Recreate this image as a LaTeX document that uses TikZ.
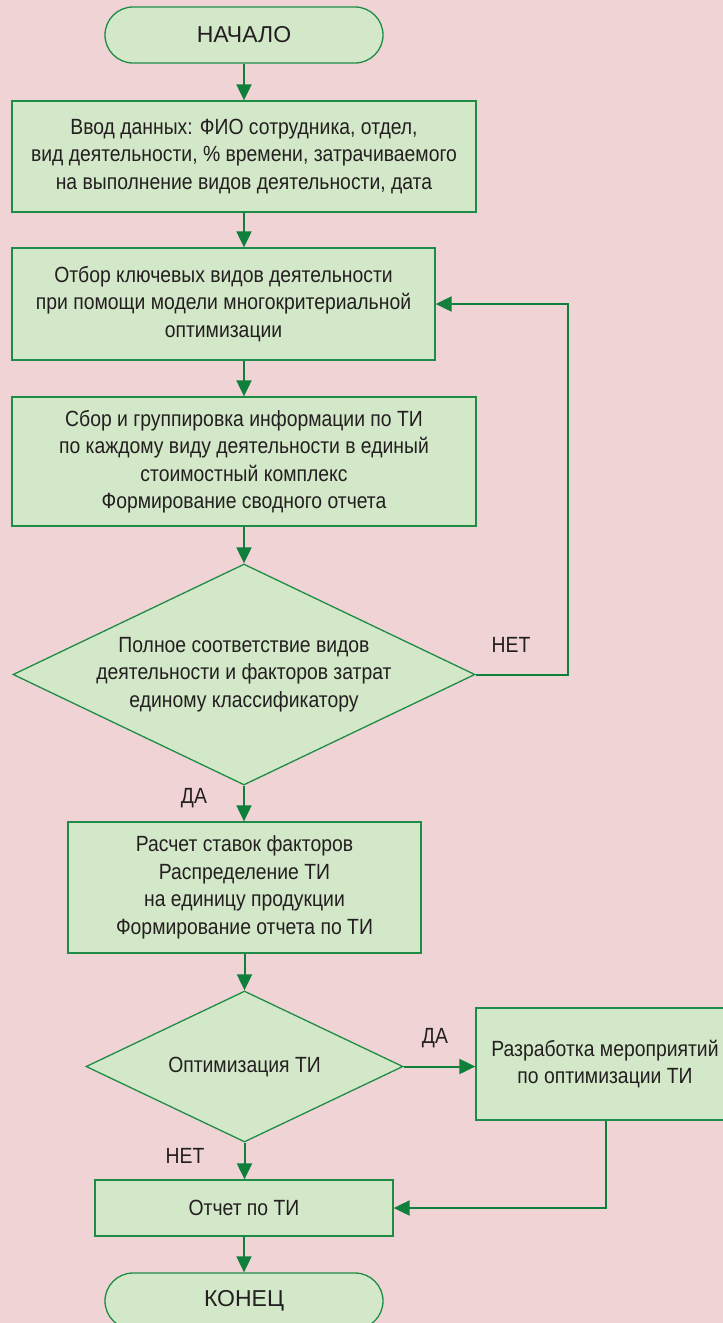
\documentclass[tikz,border=0pt]{standalone}
\usepackage{fontspec}
\setmainfont{Liberation Sans}
\newfontfamily\narrowfont{Liberation Sans}[FakeStretch=0.88]
\usetikzlibrary{shapes.geometric,arrows.meta}
\definecolor{bgpink}{HTML}{F0D4D5}
\definecolor{boxgreen}{HTML}{D3E8C8}
\definecolor{linegreen}{HTML}{1E8C46}
\definecolor{arrowgreen}{HTML}{0F7F3C}
\definecolor{textgray}{HTML}{231F20}

\begin{document}
\begin{tikzpicture}[x=1pt,y=-1pt,
    box/.style={draw=linegreen, line width=1.3pt, fill=boxgreen, inner sep=0pt,
        text=textgray, align=center, font=\narrowfont\fontsize{22}{27.5}\selectfont},
    term/.style={box, rounded corners=28pt, minimum width=278pt, minimum height=56pt,
        font=\fontsize{23}{27}\selectfont},
    choice/.style={diamond, draw=linegreen, line width=1.3pt, fill=boxgreen, inner sep=0pt},
    txt/.style={text=textgray, align=center, font=\narrowfont\fontsize{22}{27.5}\selectfont},
    flow/.style={draw=arrowgreen, line width=2pt, -{Triangle[length=16pt,width=15pt]}}]

    %% background
    \fill[bgpink] (0,0) rectangle (723,1323);
    \useasboundingbox (0,0) rectangle (723,1323);

    %% blocks
    \node[term] (start) at (244,35) {НАЧАЛО};
    \node[box, minimum width=464pt, minimum height=111pt] (input) at (244,156.5)
        {Ввод данных: ФИО сотрудника, отдел,\\
         вид деятельности, \% времени, затрачиваемого\\
         на выполнение видов деятельности, дата};
    \node[box, minimum width=423pt, minimum height=112pt] (select) at (223.5,304)
        {Отбор ключевых видов деятельности\\
         при помощи модели многокритериальной\\
         оптимизации};
    \node[box, minimum width=464pt, minimum height=129pt] (group) at (244,461.5)
        {Сбор и группировка информации по ТИ\\
         по каждому виду деятельности в единый\\
         стоимостный комплекс\\
         Формирование сводного отчета};
    \node[choice, minimum width=462pt, minimum height=221pt] (check) at (244,674.5) {};
    \node[txt] (checktext) at (check) {Полное соответствие видов\\
         деятельности и факторов затрат\\
         единому классификатору};
    \node[box, minimum width=353pt, minimum height=131pt] (calc) at (244.5,887.5)
        {Расчет ставок факторов\\
         Распределение ТИ\\
         на единицу продукции\\
         Формирование отчета по ТИ};
    \node[choice, minimum width=317pt, minimum height=151pt] (optim) at (244.5,1066.5) {};
    \node[txt] (optimtext) at (optim) {Оптимизация ТИ};
    \node[box, minimum width=258pt, minimum height=112pt] (plan) at (605,1064)
        {Разработка мероприятий\\
         по оптимизации ТИ};
    \node[box, minimum width=298pt, minimum height=56pt] (report) at (244,1208) {Отчет по ТИ};
    \node[term] (stop) at (244,1301) {КОНЕЦ};

    %% labels
    \node[txt] (no1) at (511,645) {НЕТ};
    \node[txt] (yes1) at (194,798) {ДА};
    \node[txt] (yes2) at (435,1038) {ДА};
    \node[txt] (no2) at (185,1156) {НЕТ};

    %% arrows
    \coordinate (loop) at (568,674.5);
    \coordinate (back) at (606,1208);
    \draw[flow] (start) -- (input);
    \draw[flow] (input.south) -- (input.south |- select.north);
    \draw[flow] (input.south |- select.south) -- (group.north);
    \draw[flow] (group) -- (check);
    \draw[flow] (check.east) -- (loop) |- (select.east);
    \draw[flow] (check.south) -- (check.south |- calc.north);
    \draw[flow] (calc) -- (optim);
    \draw[flow] (optim.east) -- (optim.east -| plan.west);
    \draw[flow] (optim.south) -- (optim.south |- report.north);
    \draw[flow] (back |- plan.south) -- (back) -- (report.east);
    \draw[flow] (report) -- (stop);

\end{tikzpicture}
\end{document}
